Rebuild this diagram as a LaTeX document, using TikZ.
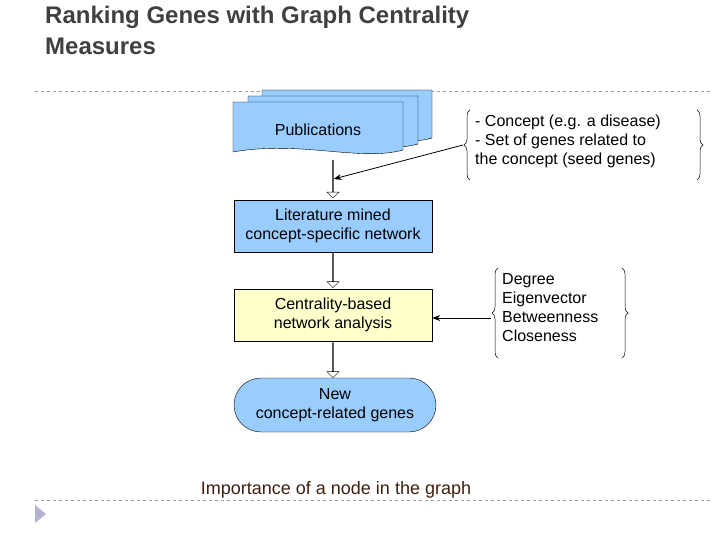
\documentclass[tikz,border=0pt]{standalone}
\usepackage{fontspec}
\setmainfont{Liberation Sans}
\usetikzlibrary{positioning, arrows.meta, shapes.arrows, decorations.pathreplacing}
\definecolor{boxblue}{HTML}{99CCFF}
\definecolor{boxyellow}{HTML}{FFFFCC}
\definecolor{titlegray}{HTML}{404040}
\definecolor{rulegray}{HTML}{A0A0A0}
\definecolor{notebrown}{HTML}{3F1F0F}
\tikzset{
  stage/.style={draw, minimum width=198pt, minimum height=52pt, align=center, font=\fontsize{16}{19}\selectfont},
  flow/.style={draw, fill=white, single arrow, shape border rotate=270, single arrow head extend=3pt,
    minimum width=12pt, single arrow tip angle=90, inner sep=0pt},
  note/.style={align=left, anchor=north west, font=\fontsize{16}{19}\selectfont, inner sep=0pt},
  curly/.style={decorate, decoration={brace, amplitude=6pt}, line width=0.5pt},
  rule/.style={rulegray, dashed, line width=0.6pt},
}
\begin{document}
\begin{tikzpicture}[x=1pt, y=-1pt]
\useasboundingbox (0,0) rectangle (720,540);
% title
\node[anchor=north west, align=left, text=titlegray, font=\fontsize{24}{31}\selectfont\bfseries, inner sep=0pt] (title) at (45,6)
  {Ranking Genes with Graph Centrality\\Measures};
\draw[rule] (35,91) -- (712,91);
\draw[rule] (35,500) -- (712,500);
\fill[rulegray!80!blue!60] (35,505) -- (46,514) -- (35,523) -- cycle;
% publications stack
\foreach \dx/\dy in {29/-12, 15/-6, 0/0} {
  \filldraw[fill=boxblue, shift={(\dx,\dy)}]
    (233,102) -- (403,102) -- (403,150) .. controls (360,162) and (300,140) .. (233,152) -- cycle;
}
\node[font=\fontsize{16}{19}\selectfont] (pub) at (318,130) {Publications};
% stages
\node[stage, fill=boxblue] (lit) at (333,226) {Literature mined\\concept-specific network};
\node[stage, fill=boxyellow] (cen) at (333,315) {Centrality-based\\network analysis};
\node[stage, fill=boxblue, rounded corners=27pt, minimum width=202pt, minimum height=54pt] (gen) at (335,405) {New\\concept-related genes};
% hollow arrows
\node[flow, minimum height=38pt] (a1) at (333,179) {};
\node[flow, minimum height=35pt] (a2) at (333,270) {};
\node[flow, minimum height=35pt] (a3) at (333,360) {};
% inputs
\node[note] (inp) at (475,115) {- Concept (e.g. a disease)\\- Set of genes related to\\the concept (seed genes)};
\draw[curly] (470,180) -- (470,110);
\draw[curly] (697,110) -- (697,180);
\coordinate (inpl) at (463,145);
\draw[-{Stealth[length=8pt]}, line width=0.8pt] (inpl) -- (a1.east);
% measures
\node[note] (mes) at (502,273) {Degree\\Eigenvector\\Betweenness\\Closeness};
\draw[curly] (498,358) -- (498,268);
\draw[curly] (622,268) -- (622,358);
\coordinate (mesl) at (491,318);
\draw[-{Stealth[length=8pt]}, line width=0.8pt] (mesl) -- (cen.east |- mesl);
% footnote
\node[text=notebrown, font=\fontsize{18}{21}\selectfont] (imp) at (336,490) {Importance of a node in the graph};
\end{tikzpicture}
\end{document}
